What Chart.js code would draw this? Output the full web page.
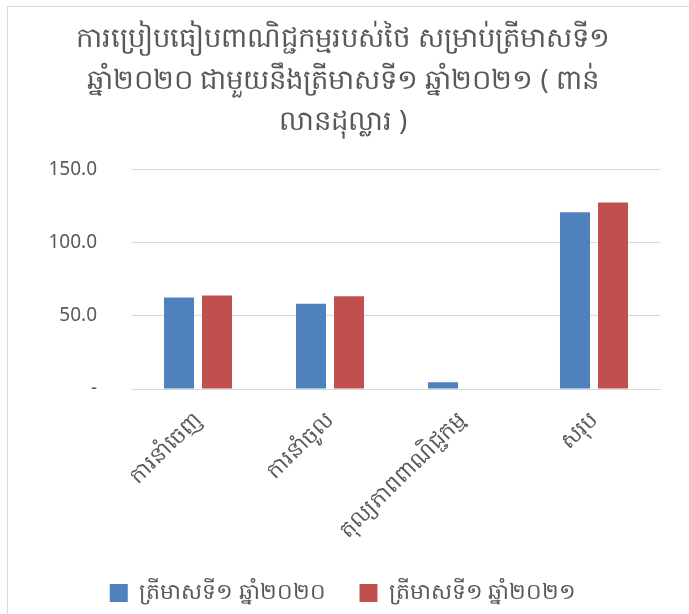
<!DOCTYPE html>
<html>
<head>
<meta charset="utf-8">
<script src="https://cdn.jsdelivr.net/npm/chart.js@4"></script>
<style>
  body { margin: 0; background: #fff; }
  #wrap { position: relative; width: 689px; height: 614px; overflow: hidden; }
  #frame { position: absolute; left: 7px; top: 6px; width: 720px; height: 640px; border: 1px solid #d9d9d9; }
  #chart { position: absolute; left: 0; top: 0; }
</style>
</head>
<body>
<div id="wrap">
  <div id="frame"></div>
  <canvas id="chart" width="689" height="614"></canvas>
</div>
<script>
let ctx = document.getElementById('chart').getContext('2d');

const titleLines = [
    'ការប្រៀបធៀបពាណិជ្ជកម្មរបស់ថៃ សម្រាប់ត្រីមាសទី១',
    'ឆ្នាំ២០២០ ជាមួយនឹងត្រីមាសទី១ ឆ្នាំ២០២១ ( ពាន់',
    'លានដុល្លារ )'
];
const categories = ['ការនាំចេញ', 'ការនាំចូល', 'តុល្យភាពពាណិជ្ជកម្ម', 'សរុប'];
const q1_2020 = [62.6, 58.3, 4.6, 120.9];
const q1_2021 = [64.0, 63.4, 0, 127.6];
const yTicks = [0, 50, 100, 150];

const fontFam = "'Noto Sans', 'DejaVu Sans', sans-serif";
const grey = '#595959';

new Chart(ctx, {
    type: 'bar',
    data: {
        labels: categories,
        datasets: [{
            label: 'ត្រីមាសទី១ ឆ្នាំ២០២០',
            data: q1_2020,
            backgroundColor: '#4F81BD',
            categoryPercentage: 0.576,
            barPercentage: 0.79
        },
        {
            label: 'ត្រីមាសទី១ ឆ្នាំ២០២១',
            data: q1_2021,
            backgroundColor: '#C0504D',
            categoryPercentage: 0.576,
            barPercentage: 0.79
        }]
    },
    options: {
        responsive: false,
        animation: false,
        layout: { padding: { left: 26, right: 29, top: 10, bottom: 0 } },
        scales: {
            y: {
                min: 0,
                max: 150,
                afterBuildTicks: (scale) => { scale.ticks = yTicks.map(v => ({ value: v })); },
                afterFit: (scale) => { scale.width = 106; },
                border: { display: false },
                grid: { color: '#d9d9d9', drawTicks: false },
                ticks: {
                    color: grey,
                    padding: 35,
                    font: { family: fontFam, size: 19 },
                    callback: (v) => v === 0 ? '-' : v.toFixed(1)
                }
            },
            x: {
                afterFit: (scale) => { scale.height = 159; },
                border: { color: '#d9d9d9' },
                grid: { display: false },
                ticks: {
                    color: grey,
                    minRotation: 45,
                    maxRotation: 45,
                    padding: 10,
                    font: { family: fontFam, size: 22 }
                }
            }
        },
        plugins: {
            title: {
                display: true,
                text: titleLines,
                color: grey,
                font: { family: fontFam, size: 27.5, weight: 'normal', lineHeight: 1.5 },
                padding: { top: 9, bottom: 27 }
            },
            legend: {
                position: 'bottom',
                labels: {
                    color: grey,
                    boxWidth: 18,
                    boxHeight: 18,
                    padding: 34,
                    font: { family: fontFam, size: 22 }
                }
            },
            tooltip: { enabled: false }
        }
    }
});
</script>
</body>
</html>
